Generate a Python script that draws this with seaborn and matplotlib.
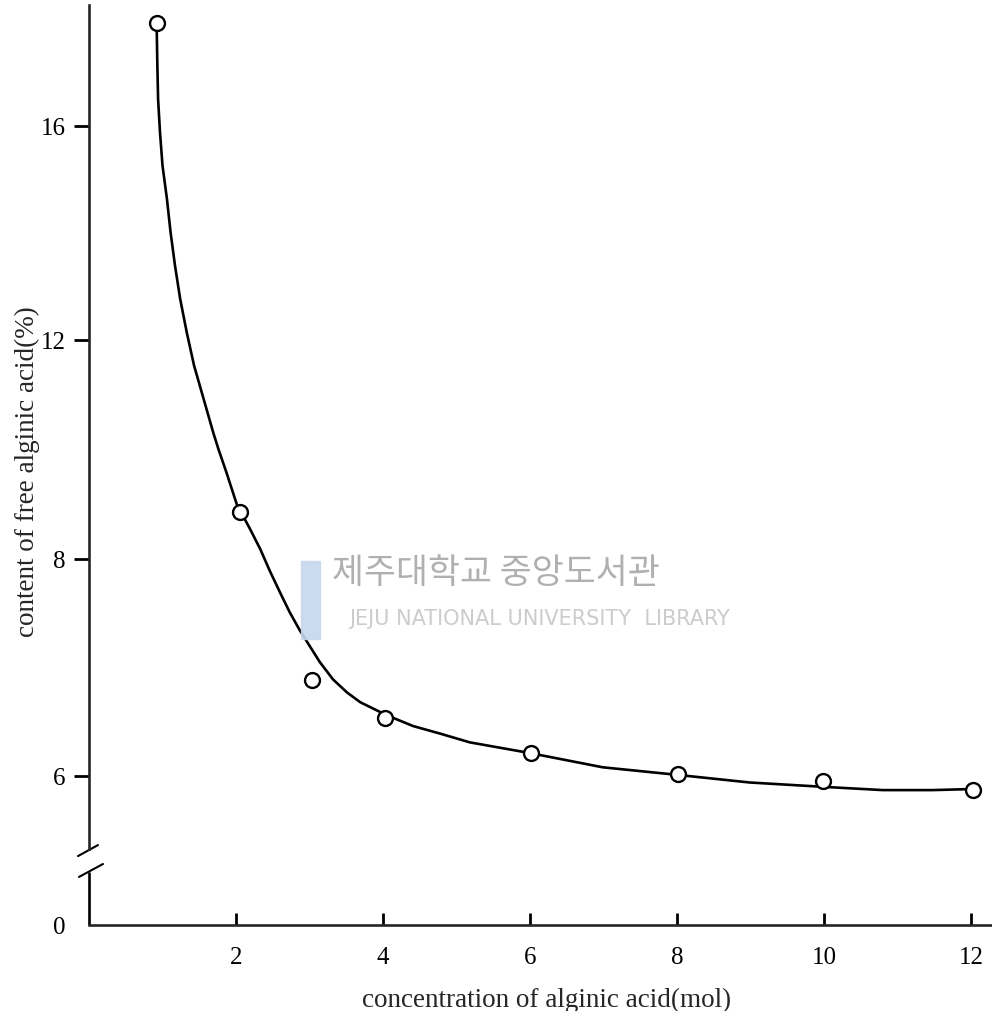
import numpy as np
import pandas as pd
import matplotlib
matplotlib.use("Agg")
import matplotlib.pyplot as plt
import matplotlib.transforms as mtransforms
from matplotlib.patches import Rectangle
import seaborn as sns

# ---------------- data ----------------
conc_points = [0.92, 2.06, 3.03, 4.03, 6.01, 8.01, 9.99, 12.03]
free_points = [17.93, 8.86, 6.88, 6.53, 6.21, 6.02, 5.95, 5.87]

curve_x = [0.92, 0.93, 0.94, 0.966, 1.00, 1.06, 1.11, 1.17, 1.24, 1.33, 1.43,
           1.56, 1.69, 1.76, 1.87, 2.01, 2.19, 2.33, 2.46, 2.60, 2.73, 2.87,
           3.01, 3.14, 3.32, 3.51, 3.69, 3.87, 4.05, 4.41, 4.78, 5.18, 6.01,
           6.99, 8.01, 8.99, 9.99, 10.80, 11.48, 12.03]
curve_y = [17.93, 17.13, 16.50, 15.88, 15.26, 14.64, 14.01, 13.39, 12.77,
           12.14, 11.53, 10.92, 10.31, 10.01, 9.58, 9.00, 8.55, 8.18, 7.89,
           7.69, 7.51, 7.34, 7.19, 7.05, 6.89, 6.77, 6.68, 6.62, 6.56, 6.46,
           6.39, 6.31, 6.21, 6.08, 6.01, 5.94, 5.90, 5.87, 5.87, 5.88]

x_ticks = [2, 4, 6, 8, 10, 12]
y_ticks = [0, 6, 8, 12, 16]

x_label = "concentration of alginic acid(mol)"
y_label = "content of free alginic acid(%)"
wm_kr = "제주대학교 중앙도서관"
wm_en = "JEJU NATIONAL UNIVERSITY  LIBRARY"

# --------------- non-uniform (broken) y scale of the original figure ---------------
scale_vals = [0, 5.5, 6, 8, 12, 16, 24]
scale_pos = [0, 94.75, 149, 366, 585, 799, 1227]


def fwd(v):
    return np.interp(v, scale_vals, scale_pos)


def inv(p):
    return np.interp(p, scale_pos, scale_vals)


sns.set_style("ticks")
plt.rcParams["font.family"] = ["Liberation Serif", "DejaVu Serif"]

fig = plt.figure(figsize=(9.92, 10.12), dpi=100)
ax = fig.add_axes([89 / 992, 86 / 1012, 903 / 992, 920 / 1012])
ax.set_yscale("function", functions=(fwd, inv))

curve_df = pd.DataFrame({"x": curve_x, "y": curve_y})
pts_df = pd.DataFrame({"x": conc_points, "y": free_points})

sns.lineplot(data=curve_df, x="x", y="y", sort=False, estimator=None,
             color="black", linewidth=1.9, ax=ax, zorder=2)
sns.scatterplot(data=pts_df, x="x", y="y", marker="o", s=115,
                facecolor="white", edgecolor="black", linewidth=1.7,
                ax=ax, zorder=3)

ax.set_xlim(0, 903 / 73.5)
ax.set_ylim(0, 18.26)

ax.set_xticks(x_ticks)
ax.set_xticklabels([str(t) for t in x_ticks])
ax.set_yticks(y_ticks)
ax.set_yticklabels([str(t) for t in y_ticks])
ax.yaxis.set_minor_locator(matplotlib.ticker.NullLocator())
ax.xaxis.set_minor_locator(matplotlib.ticker.NullLocator())

ax.tick_params(axis="x", direction="in", length=9, width=2, pad=15,
               labelsize=18, colors="black")
ax.tick_params(axis="y", direction="out", length=11, width=2, pad=6,
               labelsize=18, colors="black")
ax.yaxis.get_major_ticks()[0].tick1line.set_visible(False)

for side in ["top", "right"]:
    ax.spines[side].set_visible(False)
ax.spines["bottom"].set_linewidth(1.9)
ax.spines["left"].set_linewidth(1.9)
ax.spines["left"].set_bounds(4.41, 18.26)

# lower part of the broken y-axis and the break marks
trans = mtransforms.blended_transform_factory(ax.transAxes, ax.transData)
px = 1 / 903
ax.plot([0, 0], [0, 3.08], color="black", lw=1.9, transform=trans,
        clip_on=False, solid_capstyle="butt")
ax.plot([-11 * px, 9 * px], [4.0, 4.64], color="black", lw=1.5,
        transform=trans, clip_on=False)
ax.plot([-10 * px, 14 * px], [2.79, 3.54], color="black", lw=1.5,
        transform=trans, clip_on=False)

ax.set_xlabel(x_label, fontsize=19.5)
ax.set_ylabel(y_label, fontsize=19.5)
ax.xaxis.set_label_coords(0.507, -0.067)
ax.yaxis.set_label_coords(-0.054, 0.4935)

# library watermark
fig.patches.append(Rectangle((301 / 992, 1 - 640 / 1012), 19 / 992, 78 / 1012,
                             transform=fig.transFigure, color="#c6d6ee",
                             alpha=0.9, zorder=0))
fig.text(496 / 992, 1 - 574 / 1012, wm_kr, ha="center", va="center",
         fontsize=25, color="#b0b0b0",
         family=["Noto Sans CJK KR", "DejaVu Sans"], zorder=1)
fig.text(540 / 992, 1 - 619 / 1012, wm_en, ha="center", va="center",
         fontsize=15, color="#cccccc", family=["DejaVu Sans"], zorder=1)

fig.savefig("out.png", dpi=100)
